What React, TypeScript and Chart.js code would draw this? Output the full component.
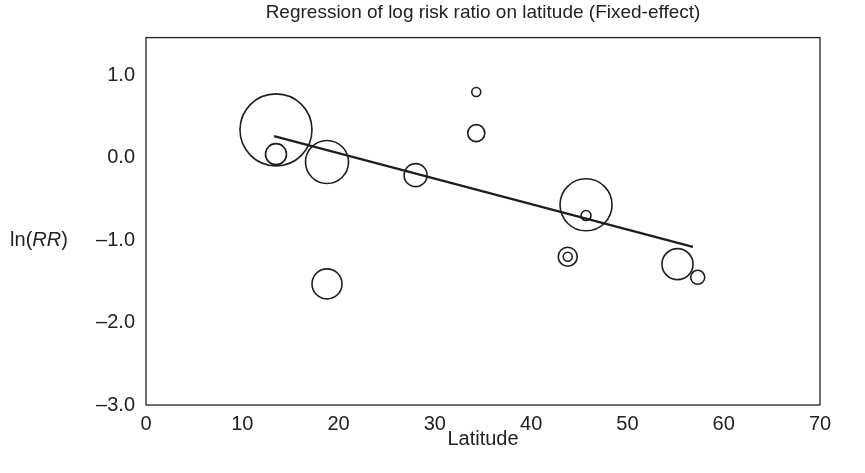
import React, { useEffect, useRef } from "react";
import { Chart, registerables } from "chart.js";

Chart.register(...registerables);

const latitude = [13.5, 13.5, 18.8, 18.8, 28.0, 34.3, 34.3, 45.7, 45.7, 43.8, 43.8, 55.2, 57.3];
const logRR = [0.34, 0.045, -0.05, -1.53, -0.21, 0.8, 0.3, -0.57, -0.7, -1.2, -1.2, -1.29, -1.45];
const weight = [36, 10.5, 21.5, 15, 11.5, 4.5, 8.5, 26, 5, 9.5, 4.5, 15.5, 7];

const fitX = [13.3, 56.8];
const fitY = [0.265, -1.08];

const yTicks = [-3, -2, -1, 0, 1];
const xTicks = [0, 10, 20, 30, 40, 50, 60, 70];

const titleText = "Regression of log risk ratio on latitude (Fixed-effect)";
const xTitle = "Latitude";

const FONT = "'Liberation Sans', Arial, Helvetica, sans-serif";

export default function App() {
  const ref = useRef<HTMLCanvasElement | null>(null);

  useEffect(() => {
    document.body.style.margin = "0";
    const canvas = ref.current!;
    const textPlugin = {
      id: "textPlugin",
      afterDraw(chart: any) {
        const ctx = chart.ctx;
        const a = chart.chartArea;
        ctx.save();
        ctx.strokeStyle = "#222";
        ctx.lineWidth = 1.3;
        ctx.strokeRect(a.left, a.top, a.right - a.left, a.bottom - a.top);
        ctx.fillStyle = "#222";
        ctx.textBaseline = "middle";
        ctx.textAlign = "center";
        const cx = (a.left + a.right) / 2;
        ctx.font = `19px ${FONT}`;
        ctx.fillText(titleText, cx, 13);
        ctx.font = `20px ${FONT}`;
        ctx.fillText(xTitle, cx, 439);
        // y title ln(RR) with italic RR
        const parts = [
          { t: "ln(", it: false },
          { t: "RR", it: true },
          { t: ")", it: false },
        ];
        let w = 0;
        for (const p of parts) {
          ctx.font = `${p.it ? "italic " : ""}20px ${FONT}`;
          w += ctx.measureText(p.t).width;
        }
        let x = 39 - w / 2;
        ctx.textAlign = "left";
        for (const p of parts) {
          ctx.font = `${p.it ? "italic " : ""}20px ${FONT}`;
          ctx.fillText(p.t, x, 240);
          x += ctx.measureText(p.t).width;
        }
        ctx.restore();
      },
    };

    const chart = new Chart(canvas, {
      type: "bubble",
      data: {
        datasets: [
          {
            type: "bubble",
            data: latitude.map((x, i) => ({ x, y: logRR[i], r: weight[i] })),
            backgroundColor: "rgba(0,0,0,0)",
            borderColor: "#1e1e1e",
            borderWidth: 1.6,
          } as any,
          {
            type: "line",
            data: fitX.map((x, i) => ({ x, y: fitY[i] })),
            borderColor: "#1e1e1e",
            borderWidth: 2.4,
            pointRadius: 0,
            fill: false,
          } as any,
        ],
      },
      options: {
        animation: false,
        responsive: false,
        maintainAspectRatio: false,
        events: [],
        layout: { padding: { left: 0, right: 45, top: 35, bottom: 0 } },
        plugins: {
          legend: { display: false },
          tooltip: { enabled: false },
          title: { display: false },
        },
        scales: {
          x: {
            type: "linear",
            min: 0,
            max: 70,
            grid: { display: false, drawTicks: false },
            border: { display: false },
            afterFit: (s: any) => {
              s.height = 68;
            },
            afterBuildTicks: (s: any) => {
              s.ticks = xTicks.map((v) => ({ value: v }));
            },
            ticks: {
              padding: 7,
              color: "#222",
              font: { family: FONT, size: 20 },
              maxRotation: 0,
              autoSkip: false,
              callback: (v: any) => String(v),
            },
          },
          y: {
            type: "linear",
            min: -3,
            max: 1.46,
            grid: { display: false, drawTicks: false },
            border: { display: false },
            afterFit: (s: any) => {
              s.width = 146;
            },
            afterBuildTicks: (s: any) => {
              s.ticks = yTicks.map((v) => ({ value: v }));
            },
            ticks: {
              padding: 11,
              color: "#222",
              font: { family: FONT, size: 20 },
              autoSkip: false,
              callback: (v: any) => {
                const n = Number(v);
                const s = Math.abs(n).toFixed(1);
                return n < 0 ? "\u2013" + s : s;
              },
            },
          },
        },
      } as any,
      plugins: [textPlugin],
    });
    return () => chart.destroy();
  }, []);

  return (
    <div style={{ width: 865, height: 473, background: "#fff" }}>
      <canvas ref={ref} width={865} height={473} style={{ display: "block" }} />
    </div>
  );
}
